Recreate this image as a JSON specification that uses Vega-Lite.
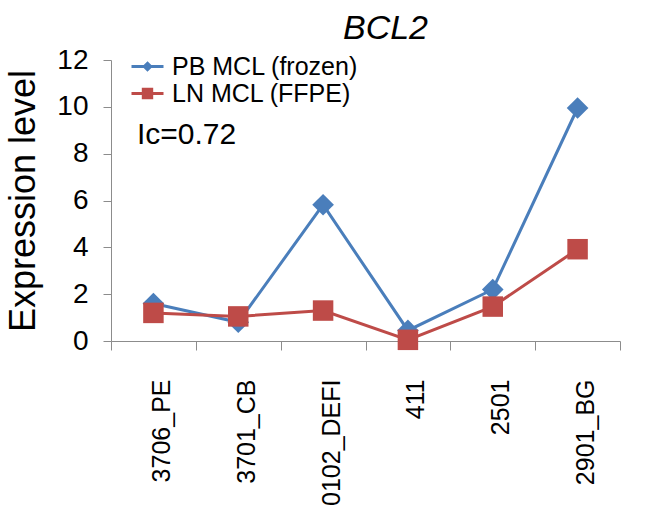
{
  "$schema": "https://vega.github.io/schema/vega-lite/v6.json",
  "width": 509,
  "height": 281,
  "autosize": "none",
  "padding": {"left": 111, "top": 60, "right": 45, "bottom": 177},
  "background": "white",
  "config": {
    "font": "Liberation Sans",
    "view": {"stroke": null}
  },
  "title": {
    "text": "BCL2",
    "fontStyle": "italic",
    "fontWeight": "normal",
    "fontSize": 34,
    "color": "black",
    "anchor": "middle",
    "dx": 20,
    "offset": 0,
    "baseline": "top"
  },
  "data": {
    "values": [
      {"sample": "3706_PE", "series": "PB MCL (frozen)", "value": 1.6},
      {"sample": "3701_CB", "series": "PB MCL (frozen)", "value": 0.8},
      {"sample": "0102_DEFI", "series": "PB MCL (frozen)", "value": 5.82},
      {"sample": "411", "series": "PB MCL (frozen)", "value": 0.45},
      {"sample": "2501", "series": "PB MCL (frozen)", "value": 2.2},
      {"sample": "2901_BG", "series": "PB MCL (frozen)", "value": 9.95},
      {"sample": "3706_PE", "series": "LN MCL (FFPE)", "value": 1.2},
      {"sample": "3701_CB", "series": "LN MCL (FFPE)", "value": 1.05},
      {"sample": "0102_DEFI", "series": "LN MCL (FFPE)", "value": 1.3},
      {"sample": "411", "series": "LN MCL (FFPE)", "value": 0.05},
      {"sample": "2501", "series": "LN MCL (FFPE)", "value": 1.47},
      {"sample": "2901_BG", "series": "LN MCL (FFPE)", "value": 3.92}
    ]
  },
  "encoding": {
    "x": {
      "field": "sample",
      "type": "nominal",
      "sort": ["3706_PE", "3701_CB", "0102_DEFI", "411", "2501", "2901_BG"],
      "scale": {"type": "band", "paddingInner": 0, "paddingOuter": 0},
      "axis": {
        "title": null,
        "labelAngle": -90,
        "labelFontSize": 25,
        "labelColor": "black",
        "labelPadding": 29,
        "labelOffset": 8,
        "tickBand": "extent",
        "tickSize": 9,
        "tickColor": "#8c8c8c",
        "domainColor": "#8c8c8c",
        "tickWidth": 1,
        "domainWidth": 1,
        "grid": false
      }
    },
    "y": {
      "field": "value",
      "type": "quantitative",
      "scale": {"domain": [0, 12], "nice": false},
      "axis": {
        "title": "Expression level",
        "titleFontSize": 36,
        "titleFontWeight": "normal",
        "titleColor": "black",
        "titlePadding": 14,
        "values": [0, 2, 4, 6, 8, 10, 12],
        "labelFontSize": 28,
        "labelColor": "black",
        "labelPadding": 15,
        "tickSize": 8,
        "tickColor": "#8c8c8c",
        "domainColor": "#8c8c8c",
        "grid": false
      }
    }
  },
  "layer": [
    {
      "mark": {"type": "line", "strokeWidth": 3},
      "encoding": {
        "color": {
          "field": "series",
          "type": "nominal",
          "scale": {
            "domain": ["PB MCL (frozen)", "LN MCL (FFPE)"],
            "range": ["#4a7ebb", "#be4b48"]
          },
          "legend": {
            "title": null,
            "orient": "none",
            "legendX": 24,
            "legendY": -6,
            "padding": 0,
            "labelFontSize": 25,
            "labelColor": "black",
            "labelOffset": 12,
            "symbolSize": 400,
            "symbolStrokeWidth": 3,
            "rowPadding": 1,
            "labelLimit": 400,
            "encode": {
              "symbols": {
                "update": {
                  "shape": {"signal": "datum.value === 'PB MCL (frozen)' ? 'M-1.6,0L1.6,0M0,-0.32L0.32,0L0,0.32L-0.32,0Z' : 'M-1.6,0L1.6,0M-0.42,-0.42L0.42,-0.42L0.42,0.42L-0.42,0.42Z'"},
                  "fill": {"signal": "datum.value === 'PB MCL (frozen)' ? '#4a7ebb' : '#be4b48'"},
                  "stroke": {"signal": "datum.value === 'PB MCL (frozen)' ? '#4a7ebb' : '#be4b48'"},
                  "fillOpacity": {"value": 1},
                  "strokeWidth": {"value": 3}
                }
              }
            }
          }
        }
      }
    },
    {
      "transform": [{"filter": "datum.series === 'PB MCL (frozen)'"}],
      "mark": {"type": "point", "filled": true, "opacity": 1, "shape": "diamond", "size": 470, "color": "#4a7ebb"}
    },
    {
      "transform": [{"filter": "datum.series === 'LN MCL (FFPE)'"}],
      "mark": {"type": "point", "filled": true, "opacity": 1, "shape": "square", "size": 420, "color": "#be4b48"}
    },
    {
      "data": {"values": [{"sample": "3706_PE", "value": 8.43, "label": "Ic=0.72"}]},
      "mark": {
        "type": "text",
        "align": "left",
        "baseline": "alphabetic",
        "fontSize": 30,
        "color": "black",
        "dx": 26
      },
      "encoding": {
        "x": {"field": "sample", "type": "nominal", "bandPosition": 0},
        "y": {"field": "value", "type": "quantitative"},
        "text": {"field": "label"}
      }
    }
  ]
}
